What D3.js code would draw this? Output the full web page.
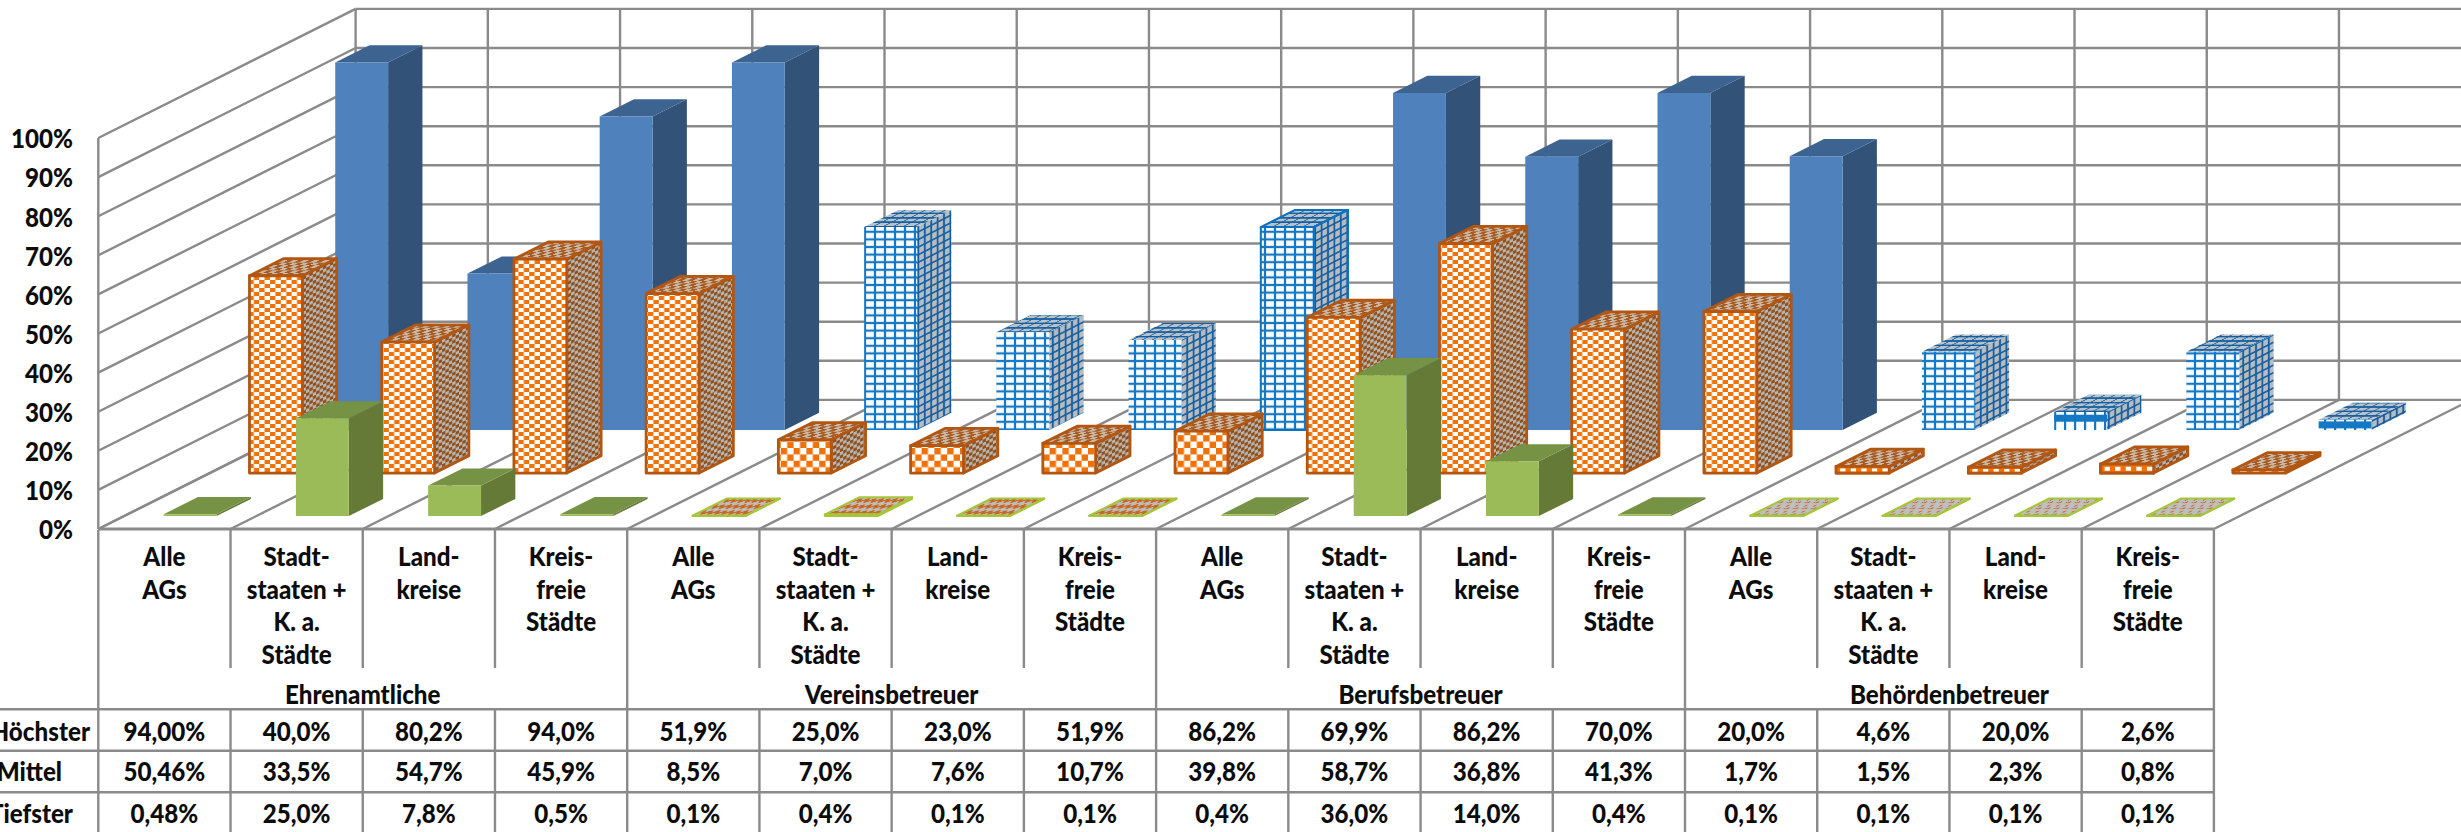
<!DOCTYPE html>
<html>
<head>
<meta charset="utf-8">
<style>
  html, body { margin: 0; padding: 0; background: #fff; overflow: hidden; }
  svg { display: block; }
  text { font-family: Lato, "Open Sans", sans-serif; font-weight: 900; fill: #0c0c0c; }
  .grid line, .table line { stroke: #8a8a8a; stroke-width: 2.4; }
</style>
<script src="https://cdn.jsdelivr.net/npm/d3@7"></script>
</head>
<body>
<div id="container"></div>
<script>
var groups = ['Ehrenamtliche', 'Vereinsbetreuer', 'Berufsbetreuer', 'Behördenbetreuer'];
var catLines = [['Alle', 'AGs'], ['Stadt-', 'staaten +', 'K. a.', 'Städte'], ['Land-', 'kreise'], ['Kreis-', 'freie', 'Städte']];
var rowNames = ['Höchster', 'Mittel', 'Tiefster'];
var yTicks = [0, 10, 20, 30, 40, 50, 60, 70, 80, 90, 100];

var hoechster = [94.0, 40.0, 80.2, 94.0, 51.9, 25.0, 23.0, 51.9, 86.2, 69.9, 86.2, 70.0, 20.0, 4.6, 20.0, 2.6];
var mittel = [50.46, 33.5, 54.7, 45.9, 8.5, 7.0, 7.6, 10.7, 39.8, 58.7, 36.8, 41.3, 1.7, 1.5, 2.3, 0.8];
var tiefster = [0.48, 25.0, 7.8, 0.5, 0.1, 0.4, 0.1, 0.1, 0.4, 36.0, 14.0, 0.4, 0.1, 0.1, 0.1, 0.1];

(function(){
var W = 2461, H = 832,
  floorY = 529, topY = 138,
  depthX = 257.3, depthY = 129.1,
  fontSize = '26px', squeeze = 0.93,
  svg = d3.select('#container').append('svg').attr('width', W).attr('height', H),
  defs = svg.append('defs'),
  cats = d3.range(16),
  x = d3.scaleBand().domain(cats).range([98.3, 2213.9]),
  y = d3.scaleLinear().domain([0, 100]).range([floorY, topY]),
  // depth runs 0 (front) to 1 (back wall), one band for each series
  z = d3.scaleBand().domain(['tiefster', 'mittel', 'hoechster']).range([0, 1]),
  barW = x.bandwidth() / 2.5,
  barD = z.bandwidth() * 0.4,
  line = d3.line();

var tile = function(id, w, h, bg, transform, draw){
    var p = defs.append('pattern').attr('id', id)
      .attr('patternUnits', 'userSpaceOnUse')
      .attr('width', w).attr('height', h);
    if(transform) p.attr('patternTransform', transform);
    p.append('rect').attr('width', w).attr('height', h).attr('fill', bg);
    draw(p);
  },
  checker = function(id, cw, ch, bg, fg, transform){
    tile(id, cw * 2, ch * 2, bg, transform, function(p){
      p.append('rect').attr('width', cw).attr('height', ch).attr('fill', fg);
      p.append('rect').attr('x', cw).attr('y', ch).attr('width', cw).attr('height', ch).attr('fill', fg);
    });
  },
  lattice = function(id, cw, ch, bg, fg, transform, lw){
    tile(id, cw, ch, bg, transform, function(p){
      p.append('rect').attr('x', cw / 2 - lw / 2).attr('width', lw).attr('height', ch).attr('fill', fg);
      p.append('rect').attr('y', ch / 2 - lw / 2).attr('width', cw).attr('height', lw).attr('fill', fg);
    });
  },
  sideT = 'matrix(1 -0.513 0 1 0 0)',
  topT = 'matrix(1 0 -1.95 1 0 0)';

checker('orangeFine', 5.4, 4, '#fff', '#ee7208');
checker('orangeCoarse', 6.4, 6.4, '#fff', '#ee7208');
checker('orangeSide', 3.4, 3.2, '#b8b4b0', '#90501c', sideT);
checker('orangeTop', 5.3, 2.6, '#c9b8a6', '#a85a20', topT);
lattice('blueFront', 10, 7.6, '#fbfdff', '#1478c4', null, 2.2);
lattice('blueSide', 6.4, 7.6, '#b6bcc2', '#175e9e', sideT, 1.8);
lattice('blueTop', 10, 4.4, '#b6c2cc', '#175e9e', topT, 1.6);
tile('blueTicks', 10, 8, '#fbfdff', null, function(p){
  p.append('rect').attr('x', 4).attr('width', 2.2).attr('height', 8).attr('fill', '#1478c4');
});
tile('greenZig', 14, 6, '#bdbdbd', topT, function(p){
  p.append('path').attr('d', 'M0 1L3.5 4L7 1L10.5 4L14 1').attr('fill', 'none').attr('stroke', '#c9641a').attr('stroke-width', 2.2);
});
tile('greenDots', 9, 6, '#bfbfbf', topT, function(p){
  p.append('path').attr('d', 'M1 1L3 2.5M6 3.5L8 5M4 5L5 4').attr('fill', 'none').attr('stroke', '#c4682a').attr('stroke-width', 1.3);
});

// the four groups of four categories decide which look a bar gets
var styleOf = {
  hoechster: function(c, h){
    var g = Math.floor(c / 4);
    if(g % 2 === 0) return {front: '#4f81bd', side: '#325277', top: '#3d6391', stroke: 'none'};
    return {front: h < 25 ? 'url(#blueTicks)' : 'url(#blueFront)', side: 'url(#blueSide)', top: 'url(#blueTop)', stroke: c === 7 ? '#0b72c2' : 'none', band: h < 25};
  },
  mittel: function(c, h){
    return {front: h > 100 ? 'url(#orangeFine)' : 'url(#orangeCoarse)', side: 'url(#orangeSide)', top: 'url(#orangeTop)', stroke: '#b25612', row: h < 15};
  },
  tiefster: function(c){
    var g = Math.floor(c / 4);
    if(g === 1) return {front: '#a5c63b', side: '#a5c63b', top: 'url(#greenZig)', stroke: '#a5c63b'};
    if(g === 3) return {front: '#a5c63b', side: '#a5c63b', top: 'url(#greenDots)', stroke: '#a5c63b'};
    return {front: '#9bbb59', side: '#667a38', top: '#769244', stroke: 'none'};
  }
};

// walls and floor
var grid = svg.append('g').attr('class', 'grid');
grid.selectAll('line.back').data(yTicks).join('line').attr('class', 'back')
  .attr('x1', x.range()[0] + depthX).attr('x2', x.range()[1] + depthX)
  .attr('y1', function(d){ return y(d) - depthY; }).attr('y2', function(d){ return y(d) - depthY; });
grid.selectAll('line.left').data(yTicks).join('line').attr('class', 'left')
  .attr('x1', x.range()[0]).attr('x2', x.range()[0] + depthX)
  .attr('y1', function(d){ return y(d); }).attr('y2', function(d){ return y(d) - depthY; });
var bounds = d3.range(17).map(function(i){ return x.range()[0] + i * x.step(); });
grid.selectAll('line.wall').data(bounds).join('line').attr('class', 'wall')
  .attr('x1', function(d){ return d + depthX; }).attr('x2', function(d){ return d + depthX; })
  .attr('y1', y(100) - depthY).attr('y2', y(0) - depthY);
grid.selectAll('line.floor').data(bounds).join('line').attr('class', 'floor')
  .attr('x1', function(d){ return d; }).attr('x2', function(d){ return d + depthX; })
  .attr('y1', y(0)).attr('y2', y(0) - depthY);
grid.append('line').attr('x1', x.range()[0]).attr('x2', x.range()[1]).attr('y1', y(0)).attr('y2', y(0)).style('stroke-width', 3);
grid.append('line').attr('x1', x.range()[0]).attr('x2', x.range()[0]).attr('y1', y(100)).attr('y2', y(0));

// bars, back row first
var drawSeries = function(name, values){
  var d0 = z(name) + z.bandwidth() * 0.3,
    ox = d0 * depthX + (x.bandwidth() - barW) / 2,
    oy = d0 * depthY,
    ddx = barD * depthX,
    ddy = barD * depthY;
  svg.append('g').attr('class', 'series ' + name)
    .selectAll('g').data(values).join('g')
    .each(function(v, c){
      var g = d3.select(this),
        x0 = x(c) + ox, x1 = x0 + barW,
        yb = y(0) - oy, yt = y(v) - oy,
        h = yb - yt,
        s = styleOf[name](c, h),
        sw = s.stroke === 'none' ? 0 : (name === 'mittel' ? 2.8 : 2),
        face = function(fill, pts){
          g.append('path').attr('fill', fill).attr('stroke', s.stroke).attr('stroke-width', sw).attr('stroke-linejoin', 'round')
            .attr('d', line(pts) + 'Z');
        };
      face(s.side, [[x1, yb], [x1 + ddx, yb - ddy], [x1 + ddx, yt - ddy], [x1, yt]]);
      face(s.top, [[x0, yt], [x1, yt], [x1 + ddx, yt - ddy], [x0 + ddx, yt - ddy]]);
      face(s.front, [[x0, yb], [x1, yb], [x1, yt], [x0, yt]]);
      if(s.band){
        g.append('rect').attr('x', x0).attr('y', yt + h * 0.15).attr('width', barW).attr('height', Math.min(7, h * 0.7)).attr('fill', '#1478c4');
      }
      if(s.row && h > 4){
        // very flat orange bars only show a single row of white squares
        g.append('rect').attr('x', x0).attr('y', yt).attr('width', barW).attr('height', h).attr('fill', '#ee7208').attr('stroke', s.stroke).attr('stroke-width', sw);
        g.selectAll('rect.sq').data(d3.range(5)).join('rect').attr('class', 'sq')
          .attr('x', function(i){ return x0 + 4 + i * barW / 5; })
          .attr('y', yt + h * 0.3).attr('width', 5.3).attr('height', h * 0.45).attr('fill', '#fff');
      }
    });
};
drawSeries('hoechster', hoechster);
drawSeries('mittel', mittel);
drawSeries('tiefster', tiefster);

// y axis
var axis = svg.append('g').attr('transform', 'translate(73,1.5)')
  .call(d3.axisLeft(y).tickValues(yTicks).tickSize(0).tickPadding(0).tickFormat(function(d){ return d + '%'; }));
axis.select('.domain').remove();
axis.selectAll('text').style('font-size', fontSize).style('font-family', 'Lato').attr('fill', '#0c0c0c')
  .attr('transform', 'scale(' + squeeze + ',1)');

// data table under the chart
var rowY = [709.3, 750.7, 792.3],
  rowText = [730.3, 771, 813],
  rowEnd = [90, 62, 73],
  table = svg.append('g').attr('class', 'table');
table.selectAll('line.v').data(bounds).join('line').attr('class', 'v')
  .attr('x1', function(d){ return d; }).attr('x2', function(d){ return d; })
  .attr('y1', 530).attr('y2', 668);
table.selectAll('line.g').data(bounds.filter(function(d, i){ return i % 4 === 0; })).join('line').attr('class', 'g')
  .attr('x1', function(d){ return d; }).attr('x2', function(d){ return d; })
  .attr('y1', 668).attr('y2', 710);
table.selectAll('line.r').data(bounds).join('line').attr('class', 'r')
  .attr('x1', function(d){ return d; }).attr('x2', function(d){ return d; })
  .attr('y1', rowY[0]).attr('y2', H);
table.selectAll('line.h').data(rowY).join('line').attr('class', 'h')
  .attr('x1', 0).attr('x2', x.range()[1])
  .attr('y1', function(d){ return d; }).attr('y2', function(d){ return d; });

var label = function(str, px, py, anchor){
  table.append('text').attr('text-anchor', anchor || 'middle').attr('dominant-baseline', 'central')
    .attr('transform', 'translate(' + px + ',' + py + ') scale(' + squeeze + ',1)')
    .style('font-size', fontSize).text(str);
};
cats.forEach(function(c){
  catLines[c % 4].forEach(function(l, i){
    label(l, x(c) + x.bandwidth() / 2, 555.7 + i * 32.6);
  });
});
groups.forEach(function(g, i){
  label(g, x(i * 4) + x.step() * 2, 694);
});
[hoechster, mittel, tiefster].forEach(function(vals, r){
  label(rowNames[r], rowEnd[r], rowText[r], 'end');
  vals.forEach(function(v, c){
    label(v.toFixed(c === 0 ? 2 : 1).replace('.', ',') + '%', x(c) + x.bandwidth() / 2, rowText[r]);
  });
});
})();
</script>
</body>
</html>
